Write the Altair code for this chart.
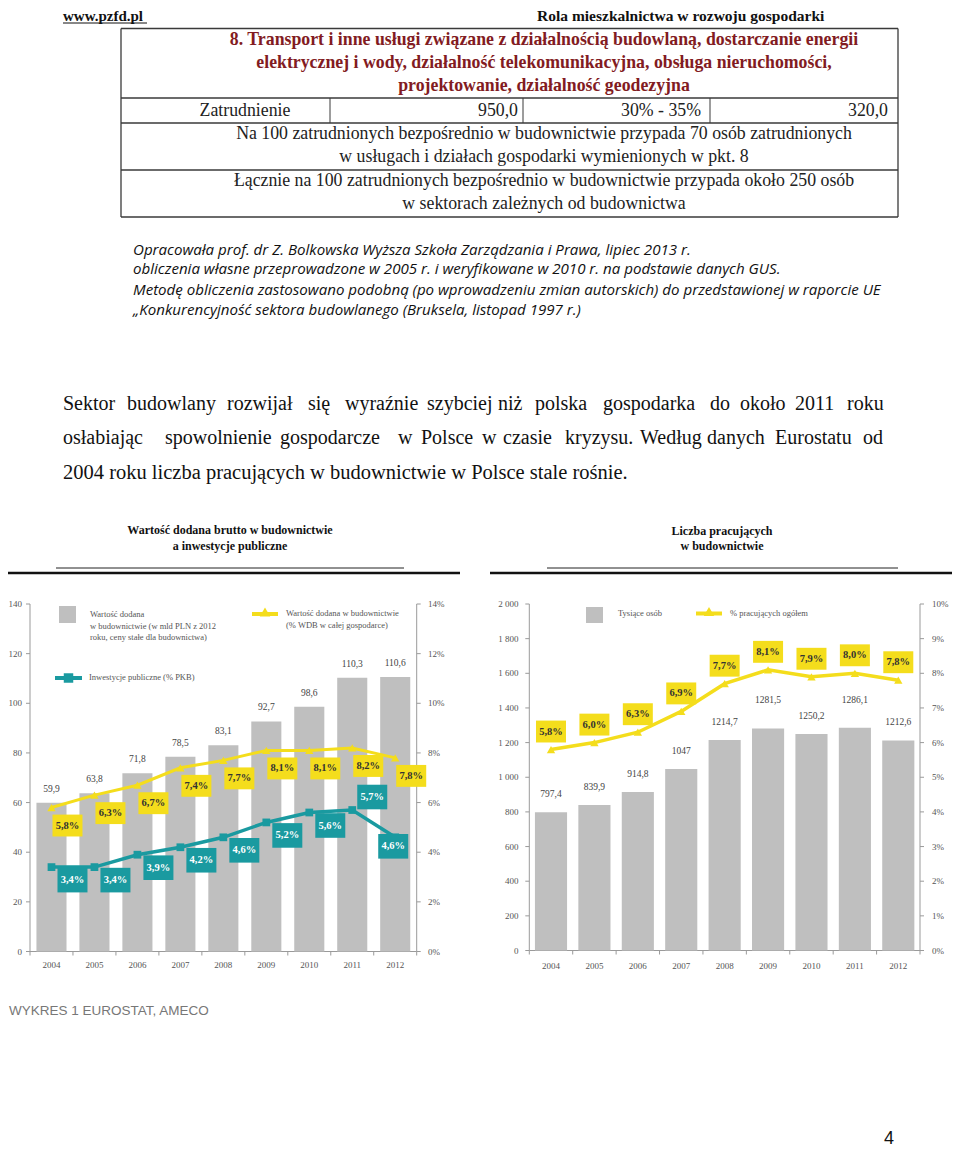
import altair as alt
import pandas as pd

# ---------------- data ----------------
years = ["2004", "2005", "2006", "2007", "2008", "2009", "2010", "2011", "2012"]
wdb_value = [59.9, 63.8, 71.8, 78.5, 83.1, 92.7, 98.6, 110.3, 110.6]      # mld PLN
wdb_share = [5.8, 6.3, 6.7, 7.4, 7.7, 8.1, 8.1, 8.2, 7.8]                 # % WDB
public_inv = [3.4, 3.4, 3.9, 4.2, 4.6, 5.2, 5.6, 5.7, 4.6]                # % PKB
employed = [797.4, 839.9, 914.8, 1047, 1214.7, 1281.5, 1250.2, 1286.1, 1212.6]
employed_share = [5.8, 6.0, 6.3, 6.9, 7.7, 8.1, 7.9, 8.0, 7.8]

left_ticks = [0, 20, 40, 60, 80, 100, 120, 140]
left_pct_ticks = [0, 2, 4, 6, 8, 10, 12, 14]
right_ticks = [0, 200, 400, 600, 800, 1000, 1200, 1400, 1600, 1800, 2000]
right_pct_ticks = [0, 1, 2, 3, 4, 5, 6, 7, 8, 9, 10]

para_line1 = ["Sektor", "budowlany", "rozwijał", "się", "wyraźnie", "szybciej", "niż",
              "polska", "gospodarka", "do", "około", "2011", "roku"]
para_line2 = ["osłabiając", "spowolnienie", "gospodarcze", "w", "Polsce", "w", "czasie",
              "kryzysu.", "Według", "danych", "Eurostatu", "od"]
para_line3 = "2004 roku liczba pracujących w budownictwie w Polsce stale rośnie."

def num_pl(v):
    if float(v).is_integer():
        return str(int(v))
    return f"{v:.1f}".replace(".", ",")

def pct_pl(v):
    return f"{v:.1f}%".replace(".", ",")

def thousands(v):
    return f"{v:,}".replace(",", " ")

df_left = pd.DataFrame({
    "year": years,
    "value": wdb_value,
    "share": wdb_share,
    "inv": public_inv,
})
df_left["value_label"] = [num_pl(v) for v in wdb_value]
df_left["share_label"] = [pct_pl(v) for v in wdb_share]
df_left["inv_label"] = [pct_pl(v) for v in public_inv]

df_right = pd.DataFrame({"year": years, "value": employed, "share": employed_share})
df_right["value_label"] = [num_pl(v) for v in employed]
df_right["share_label"] = [pct_pl(v) for v in employed_share]

df_lt = pd.DataFrame({"v": left_ticks, "label": [str(v) for v in left_ticks]})
df_ltp = pd.DataFrame({"v": left_pct_ticks, "label": [f"{v}%" for v in left_pct_ticks]})
df_rt = pd.DataFrame({"v": right_ticks, "label": [thousands(v) for v in right_ticks]})
df_rtp = pd.DataFrame({"v": right_pct_ticks, "label": [f"{v}%" for v in right_pct_ticks]})
df_bounds = pd.DataFrame({"b": list(range(len(years) + 1))})
df_years = pd.DataFrame({"year": years})

# ---------------- styling ----------------
OFF = 8  # page margin; positions below are given in page pixels
def P(v):
    return v - OFF

SERIF = "Liberation Serif"
SANS = "Liberation Sans"
YEL = "#f4dd1c"
TEAL = "#1a9aa0"
GREY = "#bfbfbf"
AX = "#9a9a9a"
LAB = "#555555"
DARKRED = "#821b22"

ONE = alt.Data(values=[{"a": 1}])

def T(s, x, y, size=12, align="left", font=SERIF, weight="normal", style="normal",
      color="#111111", baseline="middle"):
    return alt.Chart(ONE).mark_text(
        align=align, baseline=baseline, font=font, fontSize=size,
        fontWeight=weight, fontStyle=style, color=color
    ).encode(x=alt.value(P(x)), y=alt.value(P(y)), text=alt.value(s))

def R(x1, y1, x2, y2, color="#333333", w=1.0):
    return alt.Chart(ONE).mark_rule(color=color, strokeWidth=w).encode(
        x=alt.value(P(x1)), x2=alt.value(P(x2)), y=alt.value(P(y1)), y2=alt.value(P(y2)))

def BOX(x1, y1, x2, y2, color):
    return alt.Chart(ONE).mark_rect(color=color).encode(
        x=alt.value(P(x1)), x2=alt.value(P(x2)), y=alt.value(P(y1)), y2=alt.value(P(y2)))

def SYM(x, y, shape, color, size):
    return alt.Chart(ONE).mark_point(shape=shape, filled=True, color=color, size=size, opacity=1).encode(
        x=alt.value(P(x)), y=alt.value(P(y)))

layers = []

# ---------------- page header ----------------
layers += [
    T("www.pzfd.pl", 63, 21, size=15, weight="bold", baseline="alphabetic"),
    R(63, 23, 147, 23, "#111111", 1),
    T("Rola mieszkalnictwa w rozwoju gospodarki", 537, 21, size=15.5, weight="bold", baseline="alphabetic"),
]

# ---------------- table ----------------
TL, TR = 121, 898
TS = 17.8
layers += [
    R(TL, 28.5, TR, 28.5, "#3a3a3a", 1.3),
    R(TL, 217, TR, 217, "#3a3a3a", 1.3),
    R(TL, 28.5, TL, 217, "#3a3a3a", 1.3),
    R(TR, 28.5, TR, 217, "#3a3a3a", 1.3),
    R(TL, 98, TR, 98, "#3a3a3a", 1.3),
    R(TL, 123, TR, 123, "#3a3a3a", 1.3),
    R(TL, 170, TR, 170, "#3a3a3a", 1.3),
    R(330, 98, 330, 123, "#3a3a3a", 1.0),
    R(523, 98, 523, 123, "#3a3a3a", 1.0),
    R(710, 98, 710, 123, "#3a3a3a", 1.0),
    T("8. Transport i inne usługi związane z działalnością budowlaną,  dostarczanie energii",
      544, 40, size=TS, align="center", weight="bold", color=DARKRED),
    T("elektrycznej i wody, działalność  telekomunikacyjna, obsługa nieruchomości,",
      544, 63, size=TS, align="center", weight="bold", color=DARKRED),
    T("projektowanie, działalność geodezyjna",
      544, 86, size=TS, align="center", weight="bold", color=DARKRED),
    T("Zatrudnienie", 245, 110.5, size=TS, align="center", color="#222222"),
    T("950,0", 518, 110.5, size=TS, align="right", color="#222222"),
    T("30% - 35%", 701, 110.5, size=TS, align="right", color="#222222"),
    T("320,0", 888, 110.5, size=TS, align="right", color="#222222"),
    T("Na 100 zatrudnionych  bezpośrednio w budownictwie przypada 70 osób zatrudnionych",
      544, 134, size=TS, align="center", color="#222222"),
    T("w usługach i działach gospodarki wymienionych w pkt. 8",
      544, 157, size=TS, align="center", color="#222222"),
    T("Łącznie na 100 zatrudnionych  bezpośrednio w budownictwie przypada około 250 osób",
      544, 181, size=TS, align="center", color="#222222"),
    T("w sektorach zależnych od budownictwa",
      544, 204, size=TS, align="center", color="#222222"),
]

# ---------------- notes ----------------
notes = [
    "Opracowała prof. dr Z. Bolkowska Wyższa Szkoła Zarządzania i Prawa, lipiec 2013 r.",
    "obliczenia własne przeprowadzone w 2005 r. i weryfikowane w 2010 r. na podstawie danych GUS.",
    "Metodę obliczenia zastosowano podobną (po wprowadzeniu zmian autorskich) do przedstawionej  w raporcie UE",
    "„Konkurencyjność sektora budowlanego (Bruksela,  listopad 1997 r.)",
]
for s, y in zip(notes, [250, 269, 290, 310]):
    layers.append(T(s, 133, y, size=15.1, style="italic", font="Open Sans", color="#111111"))

# ---------------- paragraph (justified lines placed word by word) ----------------
PS = 20
line1_x = [63, 127, 227, 308, 345, 427, 498, 535, 603, 710, 740, 795, 847]
line2_x = [63, 165, 280, 398, 421, 482, 503, 565, 640, 707, 775, 863]
for words, xs, y in [(para_line1, line1_x, 404), (para_line2, line2_x, 438)]:
    for w, x in zip(words, xs):
        layers.append(T(w, x, y, size=PS, color="#111111"))
layers.append(T(para_line3, 63, 473, size=20.5, color="#111111"))

# ---------------- chart titles & separators ----------------
layers += [
    T("Wartość dodana brutto w budownictwie", 230, 530, size=12, align="center", weight="bold"),
    T("a inwestycje publiczne", 230, 546, size=12, align="center", weight="bold"),
    R(56, 568, 404, 568, "#222222", 1),
    R(8, 573, 460, 573, "#111111", 2.5),
    T("Liczba pracujących", 722, 531, size=12, align="center", weight="bold"),
    T("w budownictwie", 722, 546, size=12, align="center", weight="bold"),
    R(547, 568, 898, 568, "#222222", 1),
    R(490, 573, 952, 573, "#111111", 2.5),
]

# ---------------- left chart ----------------
xL = alt.Scale(domain=years, range=[P(30), P(416.7)], paddingInner=0.3, paddingOuter=0.15)
yL = alt.Scale(domain=[0, 140], range=[P(951.5), P(604)], nice=False, zero=False)
yLp = alt.Scale(domain=[0, 14], range=[P(951.5), P(604)], nice=False, zero=False)
bL = alt.Scale(domain=[0, 9], range=[P(30), P(416.7)], nice=False, zero=False)

RECT_Y = "M-1,-0.73L1,-0.73L1,0.73L-1,0.73Z"
RECT_T = "M-1,-0.82L1,-0.82L1,0.82L-1,0.82Z"

xl = alt.X("year:N", scale=xL, axis=None)
base_l = alt.Chart(df_left)

layers += [
    # axis lines
    R(30, 604, 30, 951.5, AX, 1),
    R(416.7, 604, 416.7, 951.5, AX, 1),
    R(30, 951.5, 416.7, 951.5, AX, 1),
    # axis ticks and labels
    alt.Chart(df_lt).mark_rule(color=AX, strokeWidth=1).encode(
        x=alt.value(P(26)), x2=alt.value(P(30)), y=alt.Y("v:Q", scale=yL, axis=None)),
    alt.Chart(df_lt).mark_text(align="right", baseline="middle", font=SERIF, fontSize=9, color=LAB).encode(
        x=alt.value(P(22)), y=alt.Y("v:Q", scale=yL, axis=None), text="label:N"),
    alt.Chart(df_ltp).mark_rule(color=AX, strokeWidth=1).encode(
        x=alt.value(P(416.7)), x2=alt.value(P(420.7)), y=alt.Y("v:Q", scale=yLp, axis=None)),
    alt.Chart(df_ltp).mark_text(align="left", baseline="middle", font=SERIF, fontSize=9, color=LAB).encode(
        x=alt.value(P(428)), y=alt.Y("v:Q", scale=yLp, axis=None), text="label:N"),
    alt.Chart(df_bounds).mark_rule(color=AX, strokeWidth=1).encode(
        x=alt.X("b:Q", scale=bL, axis=None), y=alt.value(P(951.5)), y2=alt.value(P(955.5))),
    alt.Chart(df_years).mark_text(baseline="middle", font=SERIF, fontSize=9, color=LAB).encode(
        x=xl, y=alt.value(P(965)), text="year:N"),
    # bars
    base_l.mark_bar(color=GREY).encode(x=xl, y=alt.Y("value:Q", scale=yL, axis=None)),
    base_l.mark_text(dy=-14, baseline="middle", font=SERIF, fontSize=9.5, color="#444444").encode(
        x=xl, y=alt.Y("value:Q", scale=yL, axis=None), text="value_label:N"),
    # yellow series
    base_l.mark_line(color=YEL, strokeWidth=3).encode(x=xl, y=alt.Y("share:Q", scale=yLp, axis=None)),
    base_l.mark_point(shape="triangle-up", filled=True, color=YEL, size=70, opacity=1).encode(
        x=xl, y=alt.Y("share:Q", scale=yLp, axis=None)),
    # teal series
    base_l.mark_line(color=TEAL, strokeWidth=3.5).encode(x=xl, y=alt.Y("inv:Q", scale=yLp, axis=None)),
    base_l.mark_point(shape="square", filled=True, color=TEAL, size=60, opacity=1).encode(
        x=xl, y=alt.Y("inv:Q", scale=yLp, axis=None)),
    # yellow value boxes
    base_l.mark_point(shape=RECT_Y, filled=True, color=YEL, size=900, opacity=1,
                      xOffset=16, yOffset=18).encode(x=xl, y=alt.Y("share:Q", scale=yLp, axis=None)),
    base_l.mark_text(dx=16, dy=18, baseline="middle", font=SERIF, fontSize=10.5, fontWeight="bold",
                     color="#333333").encode(
        x=xl, y=alt.Y("share:Q", scale=yLp, axis=None), text="share_label:N"),
]

# teal value boxes: most below-right, 2011 above, 2012 below
teal_offsets = [
    (["2004", "2005", "2006", "2007", "2008", "2009", "2010"], 21, 13),
    (["2011"], 20, -13),
    (["2012"], -2, 9),
]
for ys, dx, dy in teal_offsets:
    sub = base_l.transform_filter(alt.FieldOneOfPredicate(field="year", oneOf=ys))
    layers += [
        sub.mark_point(shape=RECT_T, filled=True, color=TEAL, size=900, opacity=1,
                       xOffset=dx, yOffset=dy).encode(x=xl, y=alt.Y("inv:Q", scale=yLp, axis=None)),
        sub.mark_text(dx=dx, dy=dy, baseline="middle", font=SERIF, fontSize=10.5, fontWeight="bold",
                      color="white").encode(
            x=xl, y=alt.Y("inv:Q", scale=yLp, axis=None), text="inv_label:N"),
    ]

# left legend
layers += [
    BOX(59, 606, 76, 623, GREY),
    T("Wartość dodana", 90, 614, size=8.5, color=LAB),
    T("w budownictwie (w mld PLN z 2012", 90, 625.5, size=8.5, color=LAB),
    T("roku, ceny stałe dla budownictwa)", 90, 637, size=8.5, color=LAB),
    R(252, 614, 278, 614, YEL, 4),
    SYM(265, 612, "triangle-up", YEL, 110),
    T("Wartość dodana w budownictwie", 286, 613, size=8.5, color=LAB),
    T("(% WDB w całej gospodarce)", 286, 625, size=8.5, color=LAB),
    R(55, 678, 82, 678, TEAL, 4),
    SYM(68.5, 678, "square", TEAL, 90),
    T("Inwestycje publiczne (% PKB)", 89, 677, size=8.5, color=LAB),
]

# ---------------- right chart ----------------
xR = alt.Scale(domain=years, range=[P(529.3), P(920)], paddingInner=0.26, paddingOuter=0.13)
yR = alt.Scale(domain=[0, 2000], range=[P(950.5), P(604)], nice=False, zero=False)
yRp = alt.Scale(domain=[0, 10], range=[P(950.5), P(604)], nice=False, zero=False)
bR = alt.Scale(domain=[0, 9], range=[P(529.3), P(920)], nice=False, zero=False)

xr = alt.X("year:N", scale=xR, axis=None)
base_r = alt.Chart(df_right)

layers += [
    R(529.3, 604, 529.3, 950.5, AX, 1),
    R(920, 604, 920, 950.5, AX, 1),
    R(529.3, 950.5, 920, 950.5, AX, 1),
    alt.Chart(df_rt).mark_rule(color=AX, strokeWidth=1).encode(
        x=alt.value(P(525.3)), x2=alt.value(P(529.3)), y=alt.Y("v:Q", scale=yR, axis=None)),
    alt.Chart(df_rt).mark_text(align="right", baseline="middle", font=SERIF, fontSize=9, color=LAB).encode(
        x=alt.value(P(518.5)), y=alt.Y("v:Q", scale=yR, axis=None), text="label:N"),
    alt.Chart(df_rtp).mark_rule(color=AX, strokeWidth=1).encode(
        x=alt.value(P(920)), x2=alt.value(P(924)), y=alt.Y("v:Q", scale=yRp, axis=None)),
    alt.Chart(df_rtp).mark_text(align="left", baseline="middle", font=SERIF, fontSize=9, color=LAB).encode(
        x=alt.value(P(932)), y=alt.Y("v:Q", scale=yRp, axis=None), text="label:N"),
    alt.Chart(df_bounds).mark_rule(color=AX, strokeWidth=1).encode(
        x=alt.X("b:Q", scale=bR, axis=None), y=alt.value(P(950.5)), y2=alt.value(P(954.5))),
    alt.Chart(df_years).mark_text(baseline="middle", font=SERIF, fontSize=9, color=LAB).encode(
        x=xr, y=alt.value(P(966)), text="year:N"),
    base_r.mark_bar(color=GREY).encode(x=xr, y=alt.Y("value:Q", scale=yR, axis=None)),
    base_r.mark_line(color=YEL, strokeWidth=3.5).encode(x=xr, y=alt.Y("share:Q", scale=yRp, axis=None)),
    base_r.mark_point(shape="triangle-up", filled=True, color=YEL, size=70, opacity=1).encode(
        x=xr, y=alt.Y("share:Q", scale=yRp, axis=None)),
    base_r.mark_point(shape=RECT_Y, filled=True, color=YEL, size=900, opacity=1,
                      yOffset=-18).encode(x=xr, y=alt.Y("share:Q", scale=yRp, axis=None)),
    base_r.mark_text(dy=-18, baseline="middle", font=SERIF, fontSize=10.5, fontWeight="bold",
                     color="#333333").encode(
        x=xr, y=alt.Y("share:Q", scale=yRp, axis=None), text="share_label:N"),
]

# bar value labels (2009 and 2011 sit higher in the original)
for ys, dy in [(["2004", "2005", "2006", "2007", "2008", "2010", "2012"], -18), (["2009", "2011"], -28)]:
    layers.append(
        base_r.transform_filter(alt.FieldOneOfPredicate(field="year", oneOf=ys)).mark_text(
            dy=dy, baseline="middle", font=SERIF, fontSize=9.5, color="#444444").encode(
            x=xr, y=alt.Y("value:Q", scale=yR, axis=None), text="value_label:N"))

# right legend
layers += [
    BOX(586, 607, 603, 623, GREY),
    T("Tysiące osób", 618, 613, size=8.5, color=LAB),
    R(696, 613.5, 722, 613.5, YEL, 4),
    SYM(709, 611.5, "triangle-up", YEL, 110),
    T("% pracujących ogółem", 730, 613, size=8.5, color=LAB),
]

# ---------------- footer ----------------
layers += [
    T("WYKRES 1 EUROSTAT, AMECO", 9, 1011, size=13.5, font=SANS, color="#777777"),
    T("4", 884, 1139, size=18, font=SANS, color="#111111"),
]

chart = alt.layer(*layers).resolve_scale(x="independent", y="independent").properties(
    width=944, height=1139, padding=0, autosize=alt.AutoSizeParams(type="none")
).configure_view(stroke=None)

chart.save("out.html", embed_options={"renderer": "svg", "actions": False})
